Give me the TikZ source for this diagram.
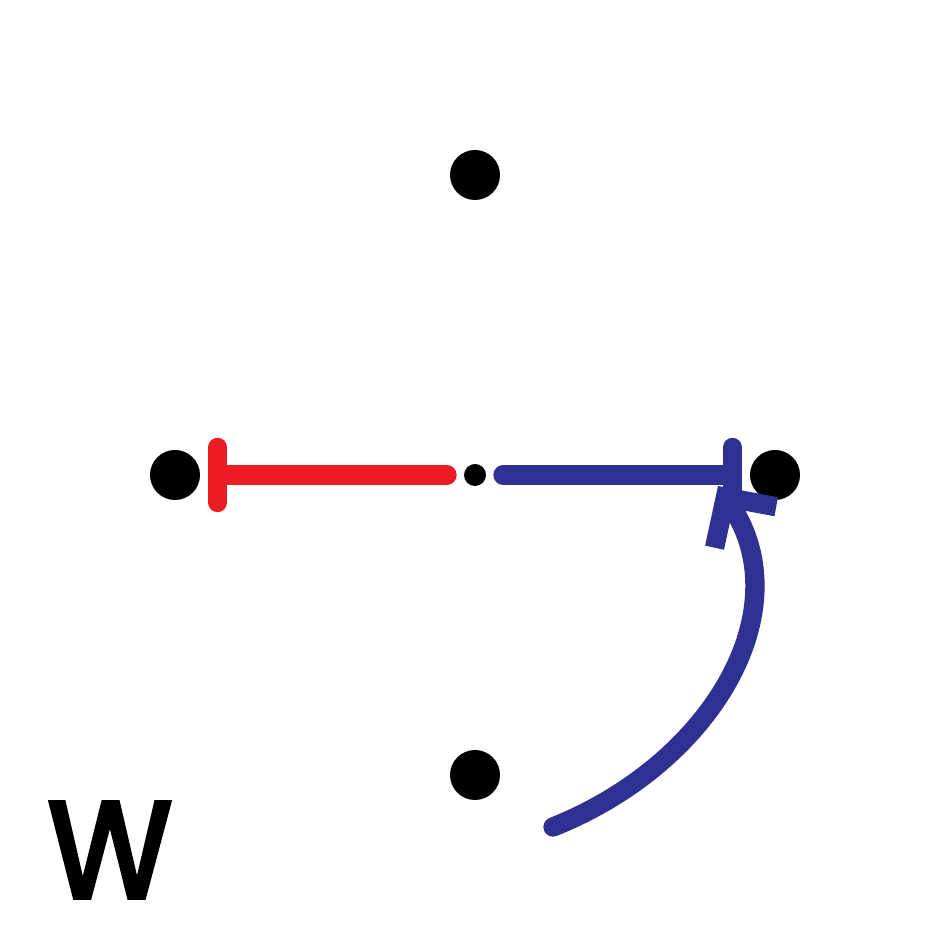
\documentclass[tikz,border=0pt]{standalone}
\usepackage{fontspec}
\usepackage{xcolor}
\usetikzlibrary{arrows.meta}
\newfontfamily\labelfont{Poppins}[UprightFont={* Medium}, FakeBold=1.5, FakeStretch=0.9]
\definecolor{inhibred}{RGB}{237,28,36}
\definecolor{actblue}{RGB}{46,49,146}

\begin{document}
\begin{tikzpicture}[
  species/.style = {circle, fill=black, inner sep=0pt, minimum size=0.5cm},
  hub/.style = {circle, fill=black, inner sep=0pt, minimum size=0.22cm},
  edge/.style = {line width=5.5pt, line cap=round},
  inhib/.style = {edge, draw=inhibred, -{Bar[width=0.55cm, line cap=round]}},
  act/.style = {edge, draw=actblue, -{Bar[width=0.55cm, line cap=round]}},
  regul/.style = {edge, draw=actblue, -{Straight Barb[length=0.36cm, width=0.74cm, line cap=butt, line join=miter]}}
]
  \useasboundingbox[fill=white] (0,0) rectangle (9.5,9.5);

  \node[species] (top) at (4.75,7.75) {};
  \node[species] (left) at (1.75,4.75) {};
  \node[species] (right) at (7.75,4.75) {};
  \node[species] (bottom) at (4.75,1.75) {};
  \node[hub] (mid) at (4.75,4.75) {};

  \coordinate (src) at (5.53,1.23);
  \coordinate (tgt) at (7.18,4.64);

  \draw[inhib, shorten <=0.28cm, shorten >=0.33cm] (mid.center) -- (left.center);
  \draw[act, shorten <=0.28cm, shorten >=0.33cm] (mid.center) -- (right.center);
  \draw[regul] (src) .. controls (7.11,1.86) and (8.01,3.39) .. (tgt);

  \node[font=\labelfont\fontsize{40}{40}\selectfont] (lbl) at (1.10,1.00) {W};
\end{tikzpicture}
\end{document}
